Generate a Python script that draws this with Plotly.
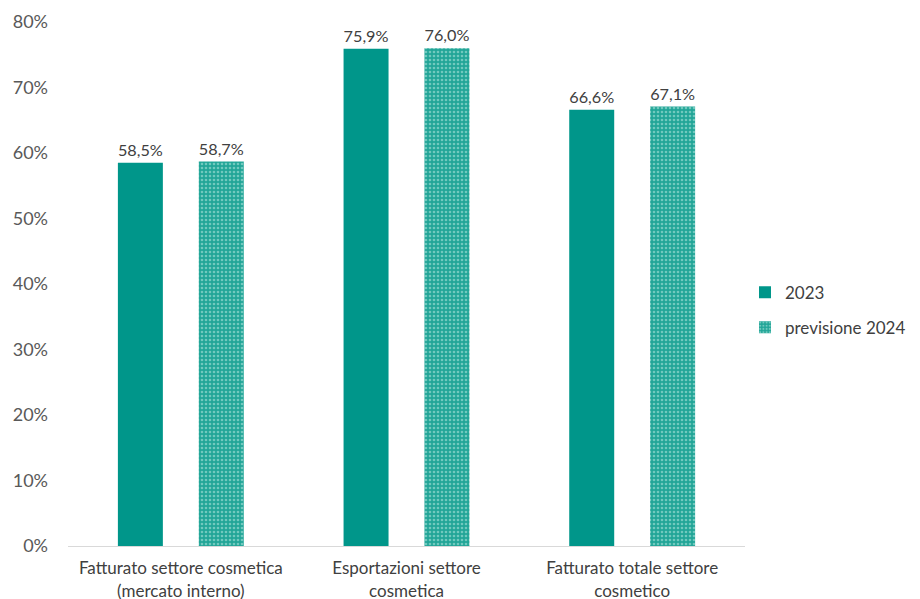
import plotly.graph_objects as go

categories = ["Fatturato settore cosmetica<br>(mercato interno)",
              "Esportazioni settore<br>cosmetica",
              "Fatturato totale settore<br>cosmetico"]
series_2023 = [58.5, 75.9, 66.6]
series_2024 = [58.7, 76.0, 67.1]
tick_vals = [0, 10, 20, 30, 40, 50, 60, 70, 80]
tick_text = ["0%", "10%", "20%", "30%", "40%", "50%", "60%", "70%", "80%"]

teal = "#00968A"
font = "Lato"

fig = go.Figure()
fig.add_trace(go.Bar(
    x=categories, y=series_2023, name="2023", legendgroup="a",
    marker=dict(color=teal, line=dict(width=0)),
    texttemplate="%{y:.1f}%", textposition="outside",
    textfont=dict(size=17, color="#404040"), cliponaxis=False,
))
fig.add_trace(go.Bar(
    x=categories, y=series_2024, name="previsione 2024", legendgroup="b",
    marker=dict(color="#2FB3A5", line=dict(width=0),
                pattern=dict(shape=".", fgcolor="#BFEDE6", bgcolor="#22A597",
                             size=4, solidity=0.35)),
    texttemplate="%{y:.1f}%", textposition="outside",
    textfont=dict(size=17, color="#404040"), cliponaxis=False,
))

fig.update_layout(
    width=912, height=591,
    margin=dict(l=60, r=175, t=14, b=53, autoexpand=False),
    paper_bgcolor="white", plot_bgcolor="white",
    barmode="group", bargap=0.283, bargroupgap=0.444,
    separators=",.",
    font=dict(family=font, size=16, color="#595959"),
    legend=dict(x=1.0, y=0.45, yanchor="middle", xanchor="left",
                font=dict(size=17, color="#404040"), tracegroupgap=10,
                itemwidth=30),
    showlegend=True,
)
fig.update_yaxes(range=[0, 80], tickmode="array", tickvals=tick_vals, ticktext=tick_text,
                 showgrid=False, zeroline=False, showline=False, automargin=False,
                 tickfont=dict(size=18, color="#595959"), ticklabelstandoff=19)
fig.update_xaxes(showline=True, linecolor="#D9D9D9", linewidth=1, automargin=False,
                 tickfont=dict(size=17, color="#404040"), ticks="", ticklabelstandoff=7)

fig.write_html("out.html")
